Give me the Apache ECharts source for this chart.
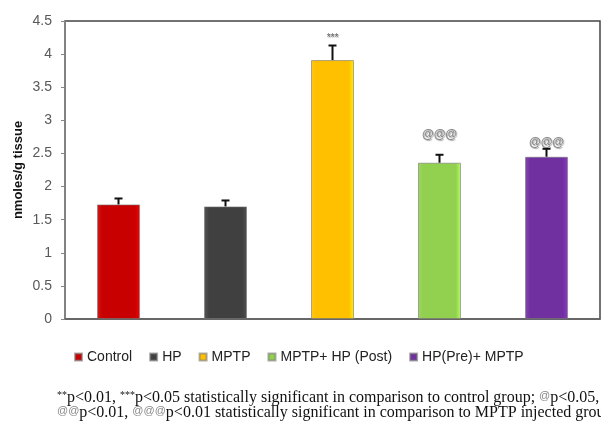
<!DOCTYPE html>
<html>
<head>
<meta charset="utf-8">
<script src="https://cdn.jsdelivr.net/npm/echarts@6/dist/echarts.min.js"></script>
<style>
  html, body { margin: 0; padding: 0; background: #fff; }
  #chart { width: 601px; height: 426px; }
</style>
</head>
<body>
<div id="chart"></div>
<script>
// groups, means, upper error (SEM) and significance marks
const groups = ['Control', 'HP', 'MPTP', 'MPTP+ HP (Post)', 'HP(Pre)+ MPTP']
const means = [1.73, 1.70, 3.91, 2.36, 2.45]
const errors = [0.09, 0.09, 0.22, 0.12, 0.12]
const sigLabels = ['', '', '***', '@@@', '@@@']
const sigHeights = [null, null, 4.24, 2.79, 2.66]
const colors = ['#c80000', '#404040', '#ffc000', '#92d050', '#7030a0']
const yTicks = [0, 0.5, 1, 1.5, 2, 2.5, 3, 3.5, 4, 4.5]

const chart = echarts.init(document.getElementById('chart'))

// 立体感的渐变
function bevel(c) {
  return {
    type: 'linear', x: 0, y: 0, x2: 1, y2: 0,
    colorStops: [
      { offset: 0, color: echarts.color.lift(c, 0.12) },
      { offset: 0.12, color: c },
      { offset: 0.88, color: c },
      { offset: 1, color: echarts.color.lift(c, -0.25) },
    ],
  }
}

// 每组一个系列，方便图例
const barSeries = groups.map((name, i) => ({
  name,
  type: 'bar',
  barWidth: 43,
  barGap: '-100%',
  data: groups.map((g, j) => (j === i ? means[j] : null)),
  itemStyle: { color: bevel(colors[i]), borderColor: 'rgba(120,120,120,0.6)', borderWidth: 1 },
  z: 2,
}))

const errorSeries = {
  type: 'custom',
  name: 'err',
  z: 5,
  data: means.map((m, i) => [i, m, errors[i]]),
  renderItem: (params, api) => {
    const i = params.dataIndex
    const base = api.coord([api.value(0), api.value(1)])
    const top = api.coord([api.value(0), api.value(1) + api.value(2)])
    const children = [
      { type: 'line', shape: { x1: base[0], y1: base[1], x2: top[0], y2: top[1] }, style: { stroke: '#111', lineWidth: 2 } },
      { type: 'line', shape: { x1: top[0] - 4, y1: top[1], x2: top[0] + 4, y2: top[1] }, style: { stroke: '#111', lineWidth: 2 } },
    ]
    if (sigLabels[i]) {
      const lp = api.coord([api.value(0), sigHeights[i]])
      const small = sigLabels[i] === '***'
      children.push({
        type: 'text',
        style: {
          x: lp[0], y: lp[1], text: sigLabels[i],
          align: 'center', verticalAlign: 'middle',
          font: (small ? '10px' : 'bold 12px') + ' "Liberation Sans", Arial, sans-serif',
          fill: small ? '#666' : '#8a8a8a',
          textShadowColor: 'rgba(0,0,0,0.35)', textShadowBlur: 1, textShadowOffsetX: 1, textShadowOffsetY: 1,
        },
      })
    }
    return { type: 'group', children }
  },
}

const option = {
  animation: false,
  grid: {
    left: 65, right: 1, top: 21, bottom: 107,
    show: true, borderColor: '#444', borderWidth: 1.5,
  },
  legend: {
    data: groups,
    left: 69, top: 345,
    icon: 'rect', itemWidth: 7, itemHeight: 7, itemGap: 17,
    textStyle: { fontFamily: '"Liberation Sans", Arial, sans-serif', fontSize: 14, color: '#222' },
  },
  xAxis: {
    type: 'category',
    data: groups,
    axisLine: { lineStyle: { color: '#666', width: 1.5 } },
    axisTick: { show: false },
    axisLabel: { show: false },
  },
  yAxis: {
    type: 'value',
    min: 0, max: 4.5, interval: 0.5,
    name: 'nmoles/g tissue',
    nameLocation: 'middle',
    nameGap: 40,
    nameMoveOverlap: false,
    nameTextStyle: { fontFamily: '"Liberation Sans", Arial, sans-serif', fontSize: 13, fontWeight: 'bold', color: '#111' },
    axisLine: { show: true, lineStyle: { color: '#888', width: 1.5 } },
    axisTick: { show: true, length: 4, lineStyle: { color: '#888' } },
    splitLine: { show: false },
    axisLabel: {
      fontFamily: '"Liberation Sans", Arial, sans-serif', fontSize: 14, color: '#595959', margin: 13,
      formatter: v => (yTicks.includes(v) ? String(v) : ''),
    },
  },
  graphic: [
    {
      type: 'text', left: 57, top: 390,
      style: {
        text: '{s|**}p<0.01, {s|***}p<0.05 statistically significant in comparison to control group; {a|@}p<0.05,\n{a|@@}p<0.01, {a|@@@}p<0.01 statistically significant in comparison to MPTP injected group',
        font: '16px "Liberation Serif", "Times New Roman", serif',
        fill: '#111',
        lineHeight: 15,
        rich: {
          s: { fontSize: 10, fontFamily: '"Liberation Serif", serif', padding: [0, 0, 6, 0], fill: '#111' },
          a: { fontSize: 11, fontFamily: '"Liberation Sans", sans-serif', padding: [0, 0, 5, 0], fill: '#888' },
        },
      },
    },
  ],
  series: [...barSeries, errorSeries],
}

chart.setOption(option)
</script>
</body>
</html>
